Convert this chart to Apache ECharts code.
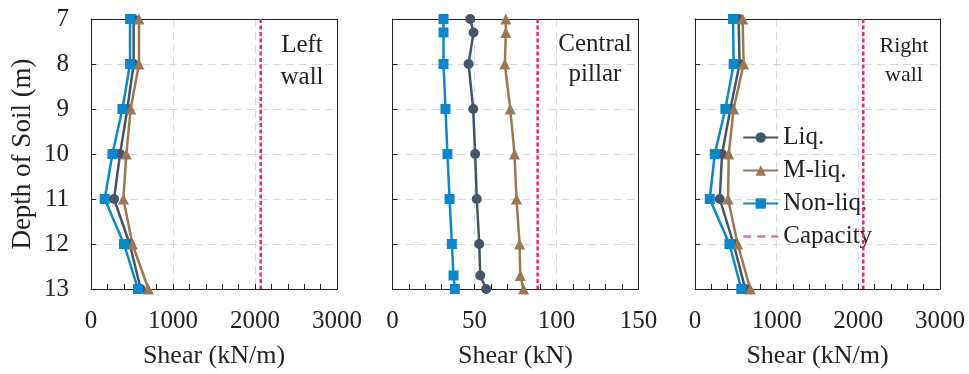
<!DOCTYPE html>
<html><head><meta charset="utf-8">
<script src="https://cdn.jsdelivr.net/npm/echarts@6/dist/echarts.min.js"></script>
<style>html,body{margin:0;padding:0;background:#fff}#c{width:969px;height:374px}</style>
</head><body><div id="c"></div>
<script>
// ---- data ----
const depthsWall = [7, 8, 9, 10, 11, 12, 13];
const depthsPillar = [7, 7.3, 8, 9, 10, 11, 12, 12.7, 13];
const leftLiq  = [520, 520, 443, 354, 281, 472, 606];
const leftMliq = [585, 585, 484, 431, 395, 505, 700];
const leftNon  = [476, 476, 383, 261, 167, 402, 573];
const pillarLiq  = [47.4, 49.4, 46.4, 49.2, 50.4, 51.4, 52.9, 53.5, 57.1];
const pillarMliq = [69.1, 69.1, 68.5, 71.8, 74.4, 75.6, 77.5, 77.9, 79.9];
const pillarNon  = [31.1, 31.1, 31.1, 32.3, 33.5, 34.8, 36.2, 37.2, 38.0];
const rightLiq  = [534, 546, 433, 331, 303, 473, 616];
const rightMliq = [583, 595, 473, 413, 405, 522, 677];
const rightNon  = [466, 473, 372, 242, 181, 421, 567];
const capLeft = 2070, capPillar = 88.5, capRight = 2060;
const depthRange = [7, 13];
const seriesNames = ['Liq.', 'M-liq.', 'Non-liq.', 'Capacity'];
const panelLabels = ['Left\nwall', 'Central\npillar', 'Right\nwall'];
const xTitles = ['Shear (kN/m)', 'Shear (kN)', 'Shear (kN/m)'];
const yTitle = 'Depth of Soil (m)';

// ---- styles ----
const FONT = '"Liberation Serif", "Times New Roman", serif';
const colors = {'Liq.': '#44546A', 'M-liq.': '#9C7752', 'Non-liq.': '#0C87CA', 'Capacity': '#E8267E'};
const symbols = {'Liq.': 'circle', 'M-liq.': 'triangle', 'Non-liq.': 'rect'};
const symSize = {'Liq.': 10, 'M-liq.': 11, 'Non-liq.': 10};

const grids = [
  {left: 91, top: 19, width: 246, height: 276},
  {left: 392.5, top: 19, width: 246, height: 276},
  {left: 695, top: 19, width: 245, height: 276}
].map(g => Object.assign(g, {show: false, containLabel: false}));

const splitStyle = {show: true, showMinLine: false, showMaxLine: false,
  lineStyle: {color: '#d9d9d9', type: [8, 5], width: 1}};
const frameLine = {show: true, onZero: false, lineStyle: {color: '#222', width: 1}};
const xMax = [3000, 150, 3000], xInt = [1000, 50, 1000];
const xAxes = [0,1,2].map(i => ({
  type: 'value', gridIndex: i, min: 0, max: xMax[i], interval: xInt[i], position: 'bottom',
  axisLine: frameLine,
  axisTick: {show: true, inside: true, length: 5, lineStyle: {color: '#222'}},
  minorTick: {show: true, splitNumber: 5, length: 5, lineStyle: {color: '#222'}},
  splitLine: splitStyle,
  axisLabel: {fontFamily: FONT, fontSize: 25, color: '#222', margin: 20, formatter: v => String(v)},
  name: xTitles[i], nameLocation: 'middle', nameGap: 54,
  nameTextStyle: {fontFamily: FONT, fontSize: 26, color: '#222'}
})).concat([0,1,2].map(i => ({
  type: 'value', gridIndex: i, min: 0, max: xMax[i], interval: xInt[i], position: 'top',
  axisLine: frameLine, axisTick: {show: false}, axisLabel: {show: false}, splitLine: {show: false}
})));
const yAxes = [0,1,2].map(i => ({
  type: 'value', gridIndex: i, min: depthRange[0], max: depthRange[1], interval: 1, inverse: true,
  position: 'left',
  axisLine: frameLine,
  axisTick: {show: true, inside: true, length: 5, lineStyle: {color: '#222'}},
  splitLine: splitStyle,
  axisLabel: {show: i === 0, fontFamily: FONT, fontSize: 25, color: '#222', margin: 22},
  name: i === 0 ? yTitle : '', nameLocation: 'middle', nameGap: 55,
  nameTextStyle: {fontFamily: FONT, fontSize: 27, color: '#222'}
})).concat([0,1,2].map(i => ({
  type: 'value', gridIndex: i, min: depthRange[0], max: depthRange[1], interval: 1, inverse: true,
  position: 'right',
  axisLine: frameLine, axisTick: {show: false}, axisLabel: {show: false}, splitLine: {show: false}
})));

function lineSeries(name, xs, ys, idx) {
  return {
    type: 'line', name: name, xAxisIndex: idx, yAxisIndex: idx,
    data: xs.map((v, k) => [v, ys[k]]),
    symbol: symbols[name], symbolSize: symSize[name], showSymbol: true,
    clip: false, animation: false, z: 10,
    lineStyle: {color: colors[name], width: 2.5},
    itemStyle: {color: colors[name]}
  };
}
function capSeries(val, idx) {
  return {
    type: 'line', name: 'Capacity', xAxisIndex: idx, yAxisIndex: idx,
    data: [[val, depthRange[0]], [val, depthRange[1]]],
    symbol: 'none', clip: false, animation: false, z: 8,
    lineStyle: {color: colors['Capacity'], width: 2.5, type: [4, 2.5]},
    itemStyle: {color: colors['Capacity']}
  };
}

const series = [
  capSeries(capLeft, 0), capSeries(capPillar, 1), capSeries(capRight, 2),
  lineSeries('Liq.', leftLiq, depthsWall, 0),
  lineSeries('M-liq.', leftMliq, depthsWall, 0),
  lineSeries('Non-liq.', leftNon, depthsWall, 0),
  lineSeries('Liq.', pillarLiq, depthsPillar, 1),
  lineSeries('M-liq.', pillarMliq, depthsPillar, 1),
  lineSeries('Non-liq.', pillarNon, depthsPillar, 1),
  lineSeries('Liq.', rightLiq, depthsWall, 2),
  lineSeries('M-liq.', rightMliq, depthsWall, 2),
  lineSeries('Non-liq.', rightNon, depthsWall, 2)
];

const labelPos = [
  {x: 302, y: 29, size: 25, lh: 32},
  {x: 595, y: 29, size: 25, lh: 30},
  {x: 904, y: 32, size: 22, lh: 28.5}
];
const graphic = panelLabels.map((t, i) => ({
  type: 'text', x: labelPos[i].x, y: labelPos[i].y, z: 100,
  style: {text: t, align: 'center', verticalAlign: 'top', fontFamily: FONT, fontSize: labelPos[i].size,
          lineHeight: labelPos[i].lh, fill: '#222'}
}));

const chart = echarts.init(document.getElementById('c'), null, {renderer: 'canvas'});
chart.setOption({
  animation: false,
  backgroundColor: '#fff',
  grid: grids, xAxis: xAxes, yAxis: yAxes, series: series,
  legend: {
    orient: 'vertical', left: 737, top: 120, itemWidth: 35, itemHeight: 13, itemGap: 8,
    textStyle: {fontFamily: FONT, fontSize: 25, color: '#222'},
    data: seriesNames.map(n => n === 'Capacity'
      ? {name: n, itemStyle: {opacity: 0}, lineStyle: {type: [8, 6], color: '#EE6AA0', width: 2.5, opacity: 1}}
      : {name: n})
  },
  graphic: graphic
});
</script></body></html>
